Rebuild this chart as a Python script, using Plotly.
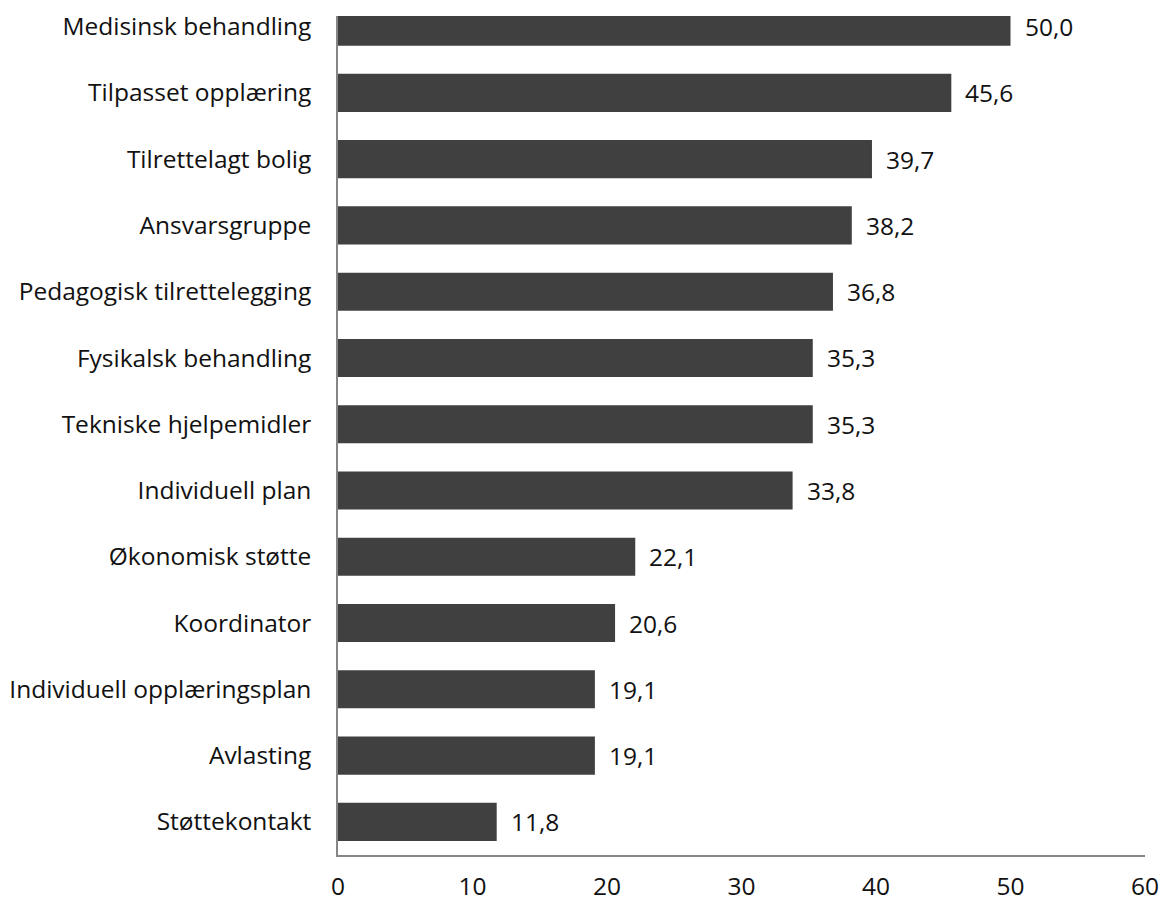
import plotly.graph_objects as go

categories = [
    "Medisinsk behandling",
    "Tilpasset opplæring",
    "Tilrettelagt bolig",
    "Ansvarsgruppe",
    "Pedagogisk tilrettelegging",
    "Fysikalsk behandling",
    "Tekniske hjelpemidler",
    "Individuell plan",
    "Økonomisk støtte",
    "Koordinator",
    "Individuell opplæringsplan",
    "Avlasting",
    "Støttekontakt",
]
values = [50.0, 45.6, 39.7, 38.2, 36.8, 35.3, 35.3, 33.8, 22.1, 20.6, 19.1, 19.1, 11.8]
x_ticks = [0, 10, 20, 30, 40, 50, 60]

cats = categories[::-1]
vals = values[::-1]

FONT = "Open Sans"
FS = 24.5
TXT = "#111111"
fig = go.Figure()
fig.add_trace(go.Bar(
    x=vals, y=list(range(len(cats))), orientation="h",
    marker=dict(color="#404040", line=dict(width=0)),
    width=0.575, hoverinfo="skip",
))
for i, v in enumerate(vals):
    fig.add_annotation(
        x=v, y=i, text=f"{v:.1f}".replace(".", ","), showarrow=False,
        xanchor="left", xshift=12, font=dict(family=FONT, size=FS, color=TXT),
    )

fig.update_layout(
    width=1159, height=897,
    margin=dict(l=330, r=22, t=8, b=50),
    paper_bgcolor="white", plot_bgcolor="white",
    showlegend=False,
    font=dict(family=FONT, size=FS, color=TXT),
)
fig.update_xaxes(
    range=[0, 60], tickvals=x_ticks, showgrid=False, zeroline=False,
    showline=True, linecolor="#868686", linewidth=1.5, ticks="",
    ticklabelstandoff=9, tickfont=dict(family=FONT, size=FS, color=TXT),
    automargin=False,
)
fig.update_yaxes(
    range=[-0.5, 12.16], tickvals=list(range(len(cats))), ticktext=cats,
    showgrid=False, zeroline=False, showline=True, linecolor="#868686",
    linewidth=1.5, ticks="", ticklabelstandoff=20,
    tickfont=dict(family=FONT, size=FS, color=TXT), automargin=False,
)
fig.write_html("out.html")
